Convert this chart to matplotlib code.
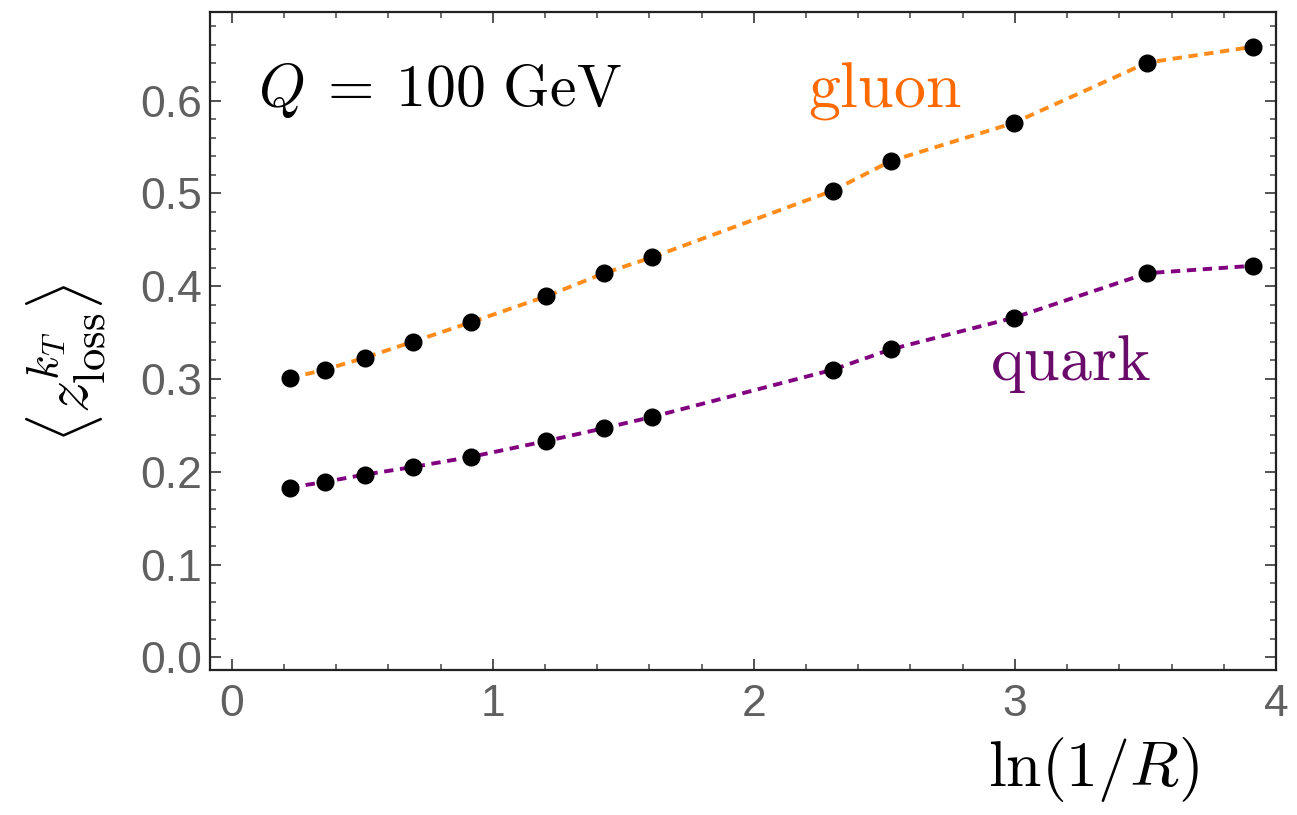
import matplotlib
matplotlib.use("Agg")
import matplotlib.pyplot as plt
from matplotlib.ticker import MultipleLocator, FormatStrFormatter

# Data
ln_inv_R = [0.223, 0.357, 0.511, 0.693, 0.916, 1.204, 1.427, 1.609, 2.303, 2.526, 2.996, 3.507, 3.912]
gluon_z = [0.301, 0.310, 0.323, 0.340, 0.361, 0.389, 0.414, 0.431, 0.503, 0.535, 0.576, 0.641, 0.658]
quark_z = [0.183, 0.189, 0.197, 0.205, 0.216, 0.233, 0.247, 0.259, 0.310, 0.332, 0.366, 0.414, 0.422]

plt.rcParams['mathtext.fontset'] = 'cm'
plt.rcParams['font.family'] = ['Liberation Sans', 'DejaVu Sans']

fig = plt.figure(figsize=(12.97, 8.15), dpi=100)
ax = fig.add_axes([0.1619, 0.1779, 0.9838 - 0.1619, 0.9847 - 0.1779])

orange = '#ff8c1a'
purple = '#800080'

ax.plot(ln_inv_R, gluon_z, color=orange, lw=2.8, dashes=(2.4, 1.7), zorder=2)
ax.plot(ln_inv_R, quark_z, color=purple, lw=2.8, dashes=(2.4, 1.7), zorder=2)
ax.plot(ln_inv_R, gluon_z, 'o', color='black', ms=12, zorder=3)
ax.plot(ln_inv_R, quark_z, 'o', color='black', ms=12, zorder=3)

ax.set_xlim(-0.083, 4.0)
ax.set_ylim(-0.0137, 0.695)

ax.xaxis.set_major_locator(MultipleLocator(1))
ax.xaxis.set_minor_locator(MultipleLocator(0.2))
ax.yaxis.set_major_locator(MultipleLocator(0.1))
ax.yaxis.set_minor_locator(MultipleLocator(0.02))
ax.yaxis.set_major_formatter(FormatStrFormatter('%.1f'))
ax.xaxis.set_major_formatter(FormatStrFormatter('%d'))

ax.tick_params(which='both', direction='in', top=True, right=True, color='#444444',
               labelcolor='#606060', labelsize=32)
ax.tick_params(which='major', length=8, width=1.3)
ax.tick_params(which='minor', length=4.5, width=1.1)
ax.tick_params(axis='x', pad=10)
ax.tick_params(axis='y', pad=6)
for s in ax.spines.values():
    s.set_linewidth(1.6)
    s.set_color('#222222')

ax.text(0.10, 0.594, r'$Q\:=\:100\ \mathrm{GeV}$', fontsize=43, ha='left', va='baseline')
ax.text(2.207, 0.594, r'$\mathrm{gluon}$', fontsize=46, color='#ff6a00', ha='left', va='baseline')
ax.text(2.905, 0.299, r'$\mathrm{quark}$', fontsize=46, color='#6a0a6a', ha='left', va='baseline')

fig.text(0.843, 0.035, r'$\ln(1/R)$', fontsize=46, ha='center', va='baseline')
fig.text(0.051, 0.555, r'$\langle z_{\mathrm{loss}}^{k_T}\rangle$', fontsize=46,
         rotation=90, ha='center', va='center')

fig.savefig('out.png', dpi=100)
